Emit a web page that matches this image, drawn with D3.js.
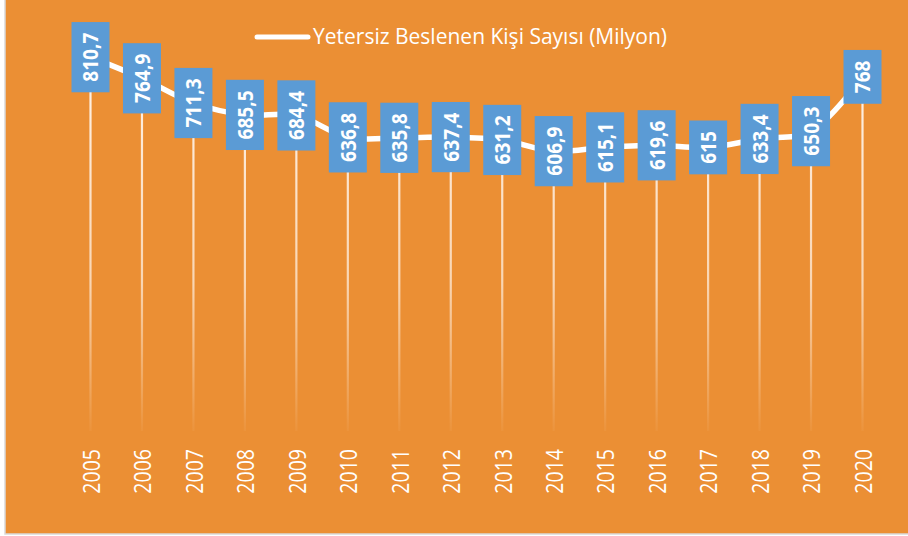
<!DOCTYPE html>
<html><head><meta charset="utf-8">
<script src="https://cdn.jsdelivr.net/npm/d3@7"></script>
<style>
html,body{margin:0;padding:0;background:#fff;}
svg{display:block;}
</style></head>
<body>
<svg id="c" width="908" height="536"></svg>
<script>
const years = ["2005","2006","2007","2008","2009","2010","2011","2012","2013","2014","2015","2016","2017","2018","2019","2020"];
const values = [810.7,764.9,711.3,685.5,684.4,636.8,635.8,637.4,631.2,606.9,615.1,619.6,615,633.4,650.3,768];
const seriesName = "Yetersiz Beslenen Kişi Sayısı (Milyon)";
const data = years.map((y,i)=>({year:y, value:values[i]}));

const svg = d3.select("#c");
const W = 908, H = 536;
const font = "'Open Sans', 'Noto Sans', sans-serif";

// background + border
svg.append("rect").attr("x",0).attr("y",0).attr("width",W).attr("height",H).attr("fill","#ffffff");
svg.append("rect").attr("x",5).attr("y",-2).attr("width",W+2).attr("height",536).attr("fill","#EB8F34")
  .attr("stroke","#D9D9D9").attr("stroke-width",1.5);

const x = d3.scalePoint().domain(years).range([90.5, 862.5]);
const y = d3.scaleLinear().domain([0,900]).range([431,16]);

const defs = svg.append("defs");
const grad = defs.append("linearGradient").attr("id","drop").attr("gradientUnits","userSpaceOnUse")
  .attr("x1",0).attr("x2",0).attr("y1",100).attr("y2",431);
grad.append("stop").attr("offset","0%").attr("stop-color","#FFF4EA").attr("stop-opacity",0.95);
grad.append("stop").attr("offset","55%").attr("stop-color","#FFF4EA").attr("stop-opacity",0.7);
grad.append("stop").attr("offset","100%").attr("stop-color","#FFF4EA").attr("stop-opacity",0.04);

// drop lines
svg.append("g").selectAll("line").data(data).join("line")
  .attr("x1",d=>x(d.year)).attr("x2",d=>x(d.year))
  .attr("y1",d=>y(d.value)).attr("y2",y(0))
  .attr("stroke","url(#drop)").attr("stroke-width",2.2);

// line
const line = d3.line().x(d=>x(d.year)).y(d=>y(d.value)).curve(d3.curveCatmullRom.alpha(0.5));
svg.append("path").datum(data).attr("d",line).attr("fill","none")
  .attr("stroke","#ffffff").attr("stroke-width",5.5).attr("stroke-linejoin","round").attr("stroke-linecap","round");

// x axis labels
const xAxis = d3.axisBottom(x).tickSize(0).tickPadding(0);
const ax = svg.append("g").attr("transform","translate(0,431)").call(xAxis);
ax.select(".domain").remove();
ax.selectAll("text")
  .attr("transform","translate(0.5,18) rotate(-90) scale(0.85,1)")
  .attr("x",0).attr("y",0).attr("dy","0.36em")
  .attr("text-anchor","end")
  .attr("fill","#ffffff").attr("font-family",font).attr("font-size",23);

// data labels
const fmt = d3.formatLocale({decimal:",",thousands:".",grouping:[3],currency:["",""]});
const lab = v => Number.isInteger(v) ? String(v) : fmt.format(".1f")(v);
const lg = svg.append("g");
const sx = 0.87;
data.forEach(d=>{
  const g = lg.append("g").attr("transform",`translate(${x(d.year)},${y(d.value)})`);
  const r = g.append("rect").attr("fill","#5B9BD5");
  const t = g.append("text").text(lab(d.value))
    .attr("transform",`rotate(-90) scale(${sx},1)`)
    .attr("text-anchor","middle").attr("dy","0.36em")
    .attr("fill","#ffffff").attr("font-family",font).attr("font-weight","bold").attr("font-size",22);
  const len = t.node().getComputedTextLength()*sx;
  const bw = 38, bh = len + 21;
  r.attr("x",-bw/2).attr("y",-bh/2).attr("width",bw).attr("height",bh);
});

// legend
svg.append("line").attr("x1",257).attr("x2",308).attr("y1",37).attr("y2",37)
  .attr("stroke","#ffffff").attr("stroke-width",5).attr("stroke-linecap","round");
svg.append("text").text(seriesName).attr("x",313).attr("y",37).attr("dy","0.35em")
  .attr("fill","#ffffff").attr("font-family",font).attr("font-size",21);
</script>
</body></html>
